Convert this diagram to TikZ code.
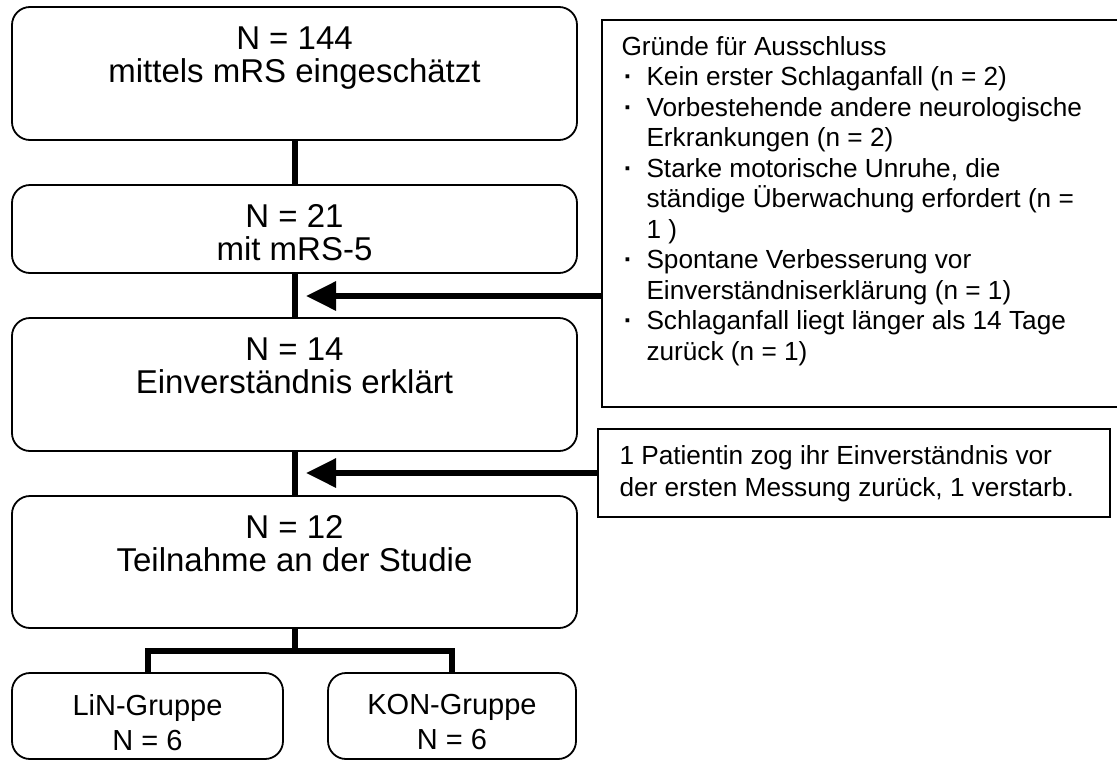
\documentclass[tikz,border=0pt]{standalone}
\usepackage{fontspec}
\setmainfont{Liberation Sans}
\usetikzlibrary{arrows.meta}

\newcommand{\bul}{\makebox[12.5pt][l]{\hspace{1.2pt}\textbf{·}}}
\newcommand{\ind}{\hspace*{12.5pt}}

\begin{document}
\begin{tikzpicture}[x=0.5pt,y=-0.5pt,
	box/.style={draw, line width=0.9pt, rounded corners=9pt, inner sep=0pt},
	note/.style={draw, line width=0.9pt, inner sep=0pt},
	link/.style={line width=3pt},
	arr/.style={line width=3pt, -{Triangle[length=15pt,width=14pt]}},
	big/.style={font=\fontsize{16.5}{16.5}\selectfont, align=center, inner sep=0pt, anchor=north},
	small/.style={font=\fontsize{13.1}{15.25}\selectfont, align=left, inner sep=0pt, anchor=north west}]
	\useasboundingbox (0,0) rectangle (1117,760);

	% main boxes
	\node[box, minimum width=282.5pt, minimum height=66.5pt] (mrs) at (294.5,73.5) {};
	\node[box, minimum width=282.5pt, minimum height=44pt] (mrsfive) at (294.5,229) {};
	\node[box, minimum width=282.5pt, minimum height=66.5pt] (consent) at (294.5,384.5) {};
	\node[box, minimum width=282.5pt, minimum height=66pt] (study) at (294.5,562) {};
	\node[box, minimum width=135.5pt, minimum height=43pt] (lin) at (147.5,716) {};
	\node[box, minimum width=124pt, minimum height=43pt] (kon) at (452,716) {};

	\node[big] (mrstxt) at ([yshift=-10pt]mrs.north) {N = 144\\mittels mRS eingeschätzt};
	\node[big] (mrsfivetxt) at ([yshift=-10pt]mrsfive.north) {N = 21\\mit mRS-5};
	\node[big] (consenttxt) at ([yshift=-10pt]consent.north) {N = 14\\Einverständnis erklärt};
	\node[big] (studytxt) at ([yshift=-10pt]study.north) {N = 12\\Teilnahme an der Studie};
	\node[big, font=\fontsize{14.5}{17.5}\selectfont] (lintxt) at ([yshift=-11pt]lin.north) {LiN-Gruppe\\N = 6};
	\node[big, font=\fontsize{14.5}{17.5}\selectfont] (kontxt) at ([yshift=-11pt]kon.north) {KON-Gruppe\\N = 6};

	% side boxes
	\node[note, minimum width=258.5pt, minimum height=193.5pt] (reasons) at (860.5,213.5) {};
	\node[note, minimum width=256pt, minimum height=44pt] (drop) at (854,473) {};

	\node[small] (reasonstxt) at ([xshift=10pt,yshift=-8.5pt]reasons.north west) {Gründe für Ausschluss\\
		\bul Kein erster Schlaganfall (n = 2)\\
		\bul Vorbestehende andere neurologische\\
		\ind Erkrankungen (n = 2)\\
		\bul Starke motorische Unruhe, die\\
		\ind ständige Überwachung erfordert (n =\\
		\ind 1 )\\
		\bul Spontane Verbesserung vor\\
		\ind Einverständniserklärung (n = 1)\\
		\bul Schlaganfall liegt länger als 14 Tage\\
		\ind zurück (n = 1)};
	\node[small, font=\fontsize{13.1}{16}\selectfont] (droptxt) at ([xshift=11pt,yshift=-8.5pt]drop.north west) {1 Patientin zog ihr Einverständnis vor\\der ersten Messung zurück, 1 verstarb.};

	% connectors
	\draw[link] (mrs) -- (mrsfive);
	\draw[link] (mrsfive) -- (consent);
	\draw[link] (consent) -- (study);
	\coordinate (fork) at (294.5,651);
	\draw[link] (study) -- (fork);
	\draw[link] (lin.north) |- (fork) -| (kon.north);

	\coordinate (tipa) at (306,296);
	\coordinate (tipb) at (306,473);
	\draw[arr] (reasons.west |- tipa) -- (tipa);
	\draw[arr] (drop.west) -- (tipb);
\end{tikzpicture}
\end{document}
